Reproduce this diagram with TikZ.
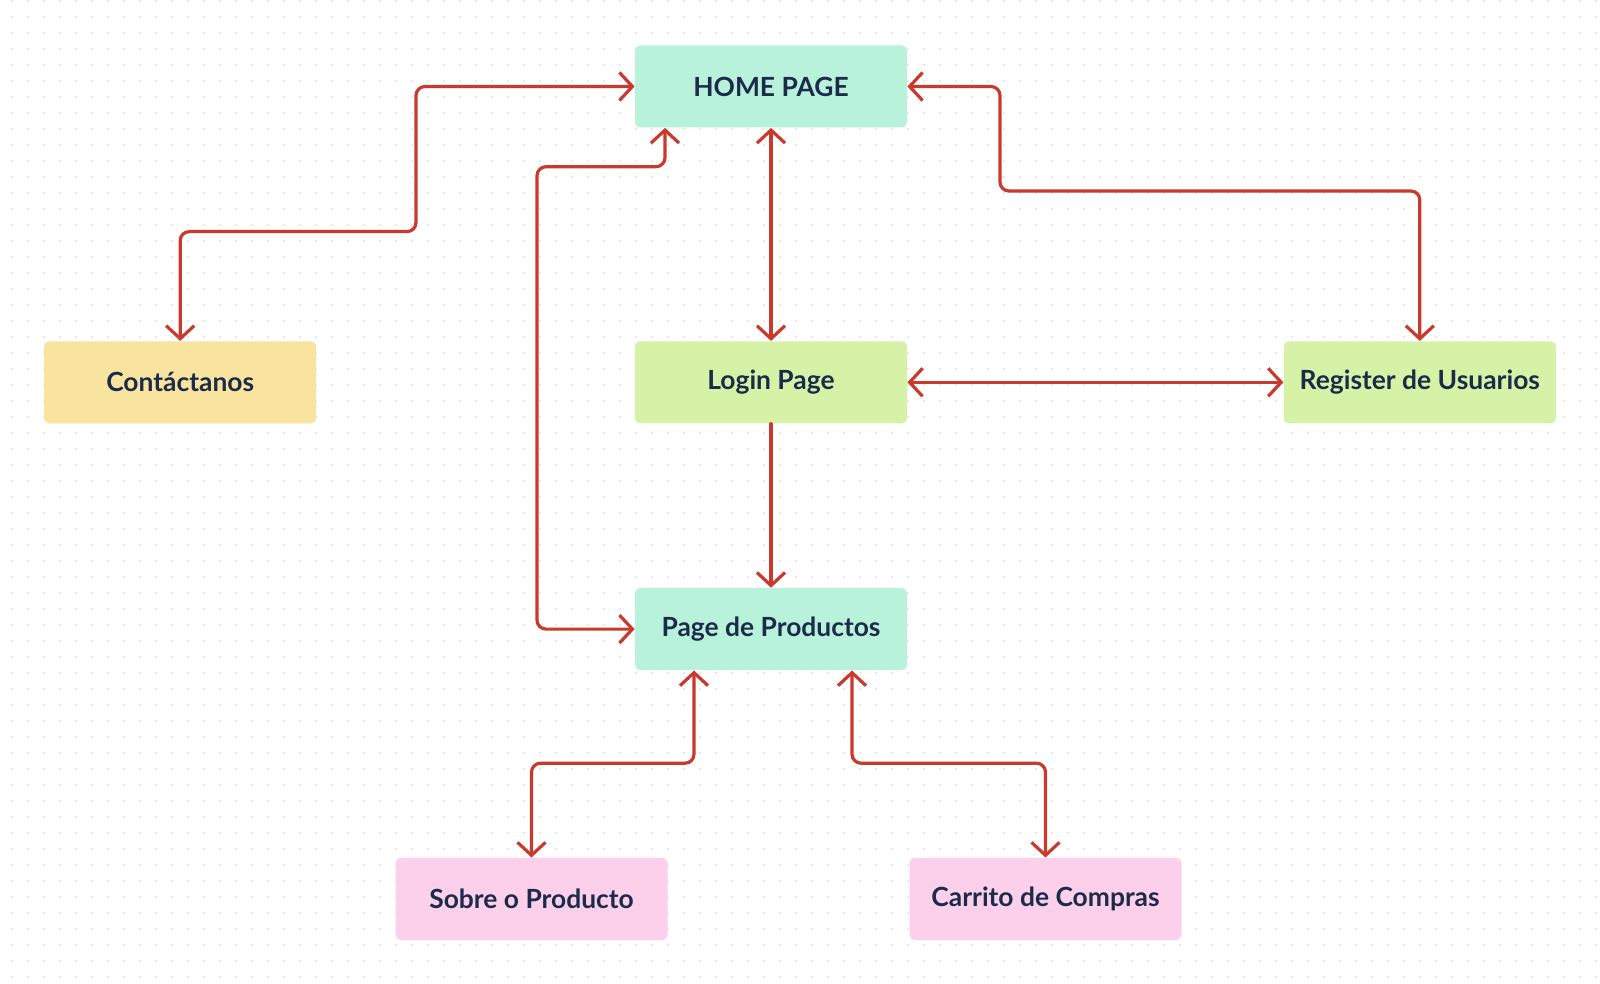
\documentclass[tikz,border=0pt]{standalone}
\usepackage{fontspec}
\setmainfont{Lato}
\usetikzlibrary{positioning,arrows.meta}
\definecolor{mint}{HTML}{B8F2DA}
\definecolor{lime}{HTML}{D5F2A6}
\definecolor{sand}{HTML}{F8E49E}
\definecolor{rose}{HTML}{FCD0EA}
\definecolor{navy}{HTML}{1C2B4A}
\definecolor{linkred}{HTML}{C83A2E}
\definecolor{dotgray}{HTML}{E2E2E2}

\begin{document}
\begin{tikzpicture}[
        x=0.5pt, y=-0.5pt,
        node distance=106.5pt and 159pt,
        >={Straight Barb[length=6.5pt,width=14pt]},
        page/.style={fill=#1, rounded corners=2.5pt, minimum height=41pt, minimum width=136pt,
            text=navy, font=\fontsize{13.2pt}{15pt}\selectfont\bfseries},
        link/.style={draw=linkred, line width=1.6pt, rounded corners=4.5pt, line join=round, line cap=round},
    ]
    \useasboundingbox (0,0) rectangle (1600,984);
    \fill[white] (0,0) rectangle (1600,984);
    % dotted background
    \foreach \x in {12,28,...,1600}
        \foreach \y in {1,17,...,984}
            \fill[dotgray] (\x,\y) circle (0.6pt);

        \node[page=mint] (home) at (771,86.5) {HOME PAGE};
        \node[page=lime, below = of home] (login) {Login Page};
        \node[page=sand, left = of login] (contact) {Contáctanos};
        \node[page=lime, right = 188pt of login] (register) {Register de Usuarios};
        \node[page=mint, below = 82pt of login] (productos) {Page de Productos};
        \node[page=rose, below = 93.5pt of productos, xshift=-119.75pt] (sobre) {Sobre o Producto};
        \node[page=rose, below = 93.5pt of productos, xshift=137.25pt] (carrito) {Carrito de Compras};

    \draw[link, <->] (contact.north) |- (416,231.6) |- (home.west);
    \draw[link, <->] ([xshift=-53pt]home.south) |- (537,166.7) |- (productos.west);
    \draw[link, <->] (home) -- (login);
    \draw[link, <->] (home.east) -| (1000,191) -| (register.north);
    \draw[link, <->] (login) -- (register);
    \draw[link, ->] (login) -- (productos);
    \draw[link, <->] ([xshift=-38.5pt]productos.south) -- ++(0,92.7) -| (sobre.north);
    \draw[link, <->] ([xshift=40.5pt]productos.south) -- ++(0,92.7) -| (carrito.north);
\end{tikzpicture}
\end{document}
